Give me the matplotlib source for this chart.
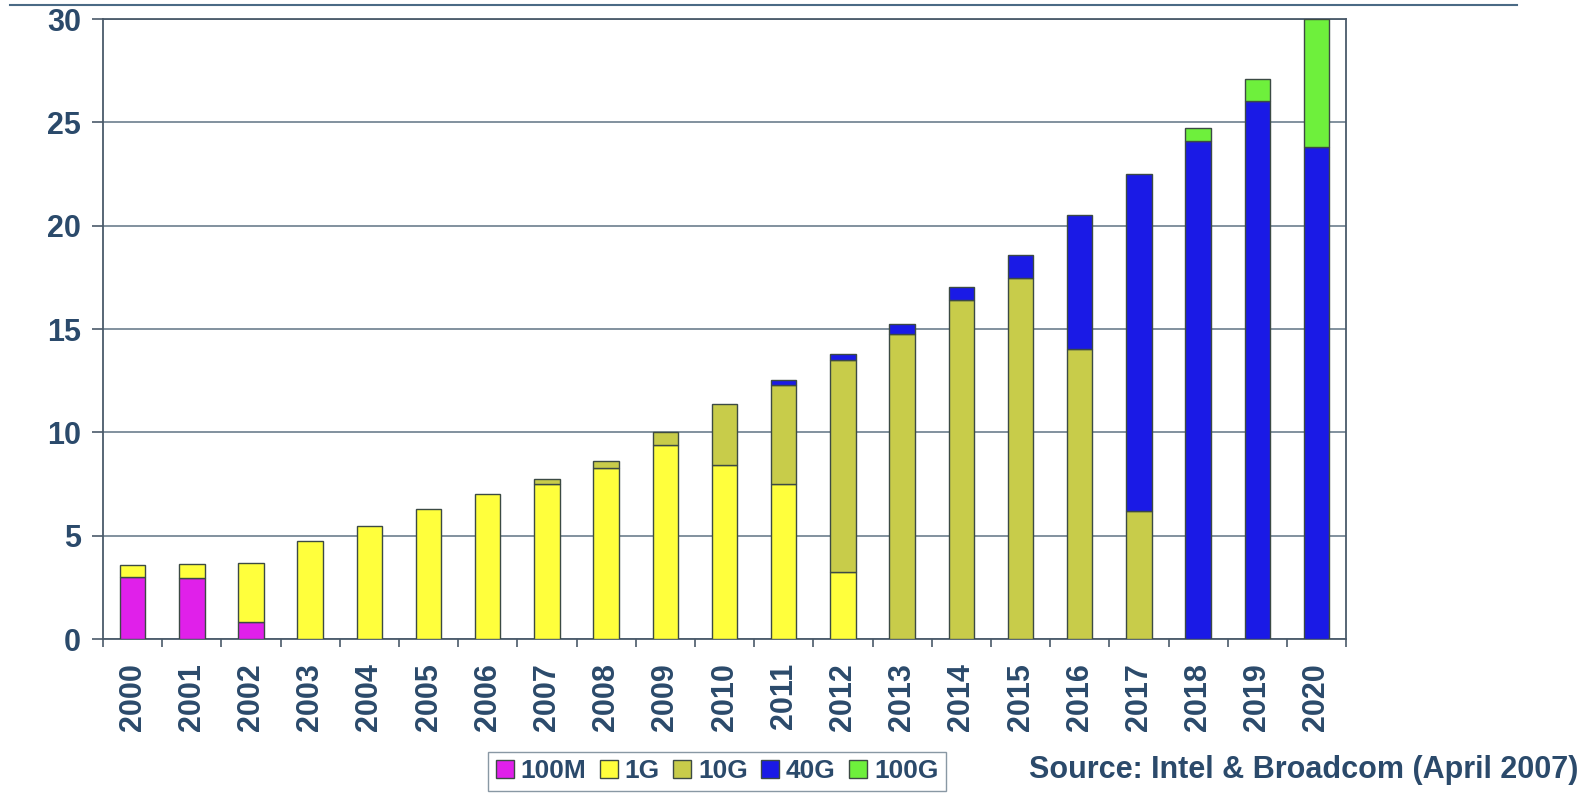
import matplotlib.pyplot as plt
import numpy as np
from matplotlib.patches import Patch
from matplotlib.lines import Line2D

years = [str(y) for y in range(2000, 2021)]

# stacked values per speed class
v100M = [3.0, 2.95, 0.85, 0, 0, 0, 0, 0, 0, 0, 0, 0, 0, 0, 0, 0, 0, 0, 0, 0, 0]
v1G = [0.58, 0.68, 2.84, 4.74, 5.48, 6.32, 7.01, 7.53, 8.29, 9.39, 8.42, 7.53, 3.26,
       0, 0, 0, 0, 0, 0, 0, 0]
v10G = [0, 0, 0, 0, 0, 0, 0, 0.21, 0.34, 0.61, 2.98, 4.76, 10.24,
        14.76, 16.43, 17.49, 14.06, 6.2, 0, 0, 0]
v40G = [0, 0, 0, 0, 0, 0, 0, 0, 0, 0, 0, 0.24, 0.32,
        0.51, 0.62, 1.08, 6.45, 16.29, 24.12, 26.06, 23.8]
v100G = [0, 0, 0, 0, 0, 0, 0, 0, 0, 0, 0, 0, 0,
         0, 0, 0, 0, 0, 0.61, 1.02, 6.2]

names = ["100M", "1G", "10G", "40G", "100G"]
colors = ["#e020ea", "#ffff3c", "#c8cc4a", "#1a1ae6", "#6ef03c"]

txt = "#2b4a6b"
plt.rcParams['font.family'] = ['Liberation Sans', 'DejaVu Sans']
plt.rcParams['font.weight'] = 'bold'

fig = plt.figure(figsize=(15.87, 7.95), dpi=100)
ax = fig.add_axes([0.0649, 0.196, 0.7833, 0.780])

x = np.arange(len(years))
bottom = np.zeros(len(years))
for vals, c in zip([v100M, v1G, v10G, v40G, v100G], colors):
    vals = np.array(vals)
    mask = vals > 0
    ax.bar(x[mask], vals[mask], width=0.43, bottom=bottom[mask], color=c,
           edgecolor="#3c4a44", linewidth=1.0, zorder=3)
    bottom += vals

ax.set_xlim(-0.5, len(years) - 0.5)
ax.set_ylim(0, 30)
ax.set_yticks([0, 5, 10, 15, 20, 25, 30])
ax.yaxis.grid(True, color="#6c7e8e", linewidth=1.2, zorder=0)
ax.set_xticks(x)
ax.set_xticklabels(years, rotation=90, fontsize=22, fontweight='bold', color=txt)
ax.tick_params(axis='x', which='major', length=0, pad=17)
ax.set_xticks(np.arange(-0.5, len(years)), minor=True)
ax.tick_params(axis='x', which='minor', length=6, width=1.2, color="#4a5a6a", direction='out')
ax.tick_params(axis='y', length=8, width=1.2, color="#4a5a6a", pad=8, labelsize=22,
               labelcolor=txt)
for lab in ax.get_yticklabels():
    lab.set_fontweight('bold')
for s in ax.spines.values():
    s.set_color("#4a5a6a")
    s.set_linewidth(1.3)

# slide rule line at very top
fig.add_artist(Line2D([0.006, 0.956], [0.994, 0.994], color="#4a6a85", linewidth=1.5))

handles = [Patch(facecolor=c, edgecolor="#3c4a44", label=n) for n, c in zip(names, colors)]
fig.legend(handles=handles, loc='center', bbox_to_anchor=(0.4518, 0.0296), ncol=5,
           frameon=True, fancybox=False, edgecolor="#6c7e8e",
           handlelength=0.7, handleheight=0.7, handletextpad=0.25, columnspacing=0.5,
           borderpad=0.3, labelcolor=txt, prop={'weight': 'bold', 'size': 19})

fig.text(0.9945, 0.031, "Source: Intel & Broadcom (April 2007)", ha='right', va='center',
         fontsize=22, fontweight='bold', color=txt)

fig.savefig("out.png", dpi=100)
